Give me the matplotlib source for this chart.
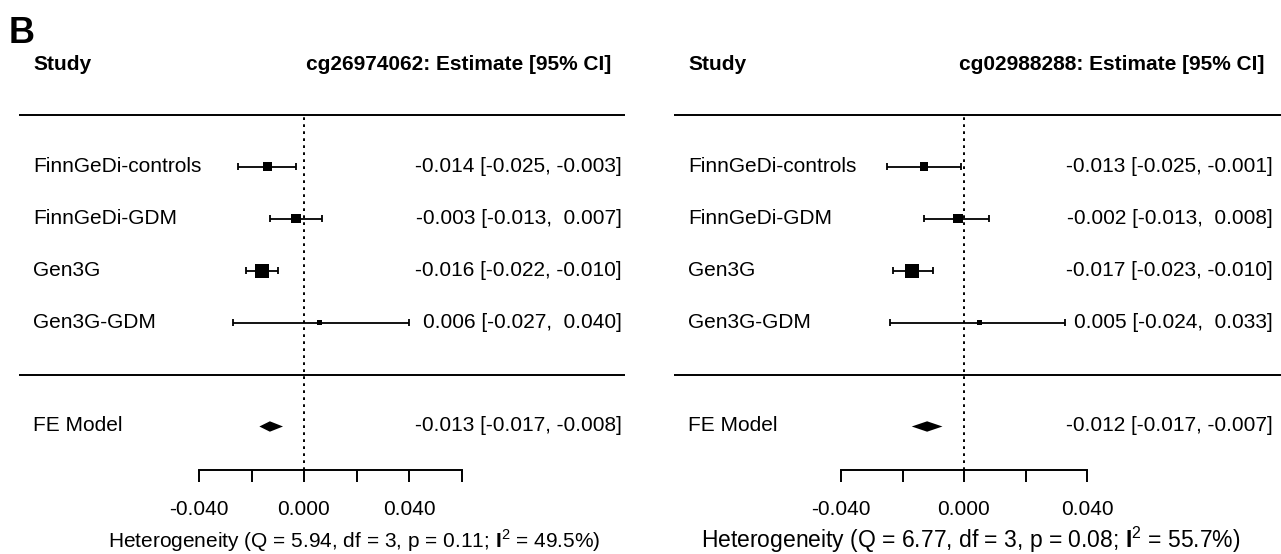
import numpy as np
import matplotlib
matplotlib.use("Agg")
import matplotlib.pyplot as plt

plt.rcParams["font.family"] = ["Liberation Sans", "DejaVu Sans"]
plt.rcParams["mathtext.fontset"] = "custom"
plt.rcParams["mathtext.rm"] = "Liberation Sans"
plt.rcParams["mathtext.bf"] = "Liberation Sans:bold"

studies = ["FinnGeDi-controls", "FinnGeDi-GDM", "Gen3G", "Gen3G-GDM"]

# cg26974062
cpg_a = "cg26974062"
est_a = [-0.014, -0.003, -0.016, 0.006]
lo_a = [-0.025, -0.013, -0.022, -0.027]
hi_a = [-0.003, 0.007, -0.010, 0.040]
fe_a = [-0.013, -0.017, -0.008]          # estimate, lower, upper
het_a = [5.94, 3, 0.11, 49.5]            # Q, df, p, I2
ticks_a = [-0.04, -0.02, 0.0, 0.02, 0.04, 0.06]
ticklabels_a = ["-0.040", "", "0.000", "", "0.040", ""]

# cg02988288
cpg_b = "cg02988288"
est_b = [-0.013, -0.002, -0.017, 0.005]
lo_b = [-0.025, -0.013, -0.023, -0.024]
hi_b = [-0.001, 0.008, -0.010, 0.033]
fe_b = [-0.012, -0.017, -0.007]
het_b = [6.77, 3, 0.08, 55.7]
ticks_b = [-0.04, -0.02, 0.0, 0.02, 0.04]
ticklabels_b = ["-0.040", "", "0.000", "", "0.040"]

W, H = 1281, 554
FS = 15
ROW_PX = 52.0      # pixels per row
TOP_LINE_PX = 114.5


def draw_panel(fig, ax_px, zero_px, ppu, px, est, lo, hi, fe, het, cpg, ticks, ticklabels, het_fs):
    # ax_px: (left, right) in pixels; zero_px / ppu: where 0 sits and px per unit
    ax = fig.add_axes([ax_px[0] / W, 0, (ax_px[1] - ax_px[0]) / W, 1])
    ax.set_xlim((ax_px[0] - zero_px) / ppu, (ax_px[1] - zero_px) / ppu)
    ax.set_ylim(5 - (H - TOP_LINE_PX) / ROW_PX, 5 + TOP_LINE_PX / ROW_PX)
    dx = lambda p: (p - zero_px) / ppu

    k = len(est)
    rows = np.arange(k, 0, -1)
    est = np.array(est)
    lo = np.array(lo)
    hi = np.array(hi)

    # point sizes by precision, like metafor
    prec = 3.92 / (hi - lo)
    sc = (prec - prec.min()) / (prec.max() - prec.min())
    side_pt = (4.7 + sc * (14 - 4.7)) * 0.72

    ax_y = 5 - (470 - TOP_LINE_PX) / ROW_PX

    ax.hlines([k + 1, 0], dx(px["line"][0]), dx(px["line"][1]), color="black", lw=1.4)
    ax.vlines(0, ax_y, k + 1, color="black", lw=1.4, linestyles=(0, (1.4, 2.2)))

    cap = 0.065
    ax.hlines(rows, lo, hi, color="black", lw=1.3)
    ax.vlines(lo, rows - cap, rows + cap, color="black", lw=1.3)
    ax.vlines(hi, rows - cap, rows + cap, color="black", lw=1.3)
    ax.scatter(est, rows, s=side_pt ** 2, marker="s", color="black", linewidths=0, zorder=3)

    for r, name, e, l, u in zip(rows, studies, est, lo, hi):
        ax.text(dx(px["label"]), r - 0.1, name, fontsize=FS, ha="left", va="baseline")
        ax.text(dx(px["est"]), r - 0.1, f"{e:.3f} [{l:6.3f}, {u:6.3f}]",
                fontsize=FS, ha="right", va="baseline")

    # summary diamond
    fy = -1
    dh = 0.1
    ax.fill([fe[1], fe[0], fe[2], fe[0]], [fy, fy + dh, fy, fy - dh], color="black", lw=0)
    ax.text(dx(px["label"]), fy - 0.09, "FE Model", fontsize=FS, ha="left", va="baseline")
    ax.text(dx(px["est"]), fy - 0.09, f"{fe[0]:.3f} [{fe[1]:6.3f}, {fe[2]:6.3f}]",
            fontsize=FS, ha="right", va="baseline")

    # headers
    ax.text(dx(px["label"]), 5.856, "Study", fontsize=FS, fontweight="bold", ha="left", va="baseline")
    ax.text(dx(px["head"]), 5.856, f"{cpg}: Estimate [95% CI]", fontsize=FS,
            fontweight="bold", ha="right", va="baseline")

    ax.text(dx(px["het"]), 5 - (548 - TOP_LINE_PX) / ROW_PX,
            f"Heterogeneity (Q = {het[0]:.2f}, df = {het[1]}, p = {het[2]:.2f}; "
            + r"$\mathbf{I}^2$" + f" = {het[3]:.1f}%)",
            fontsize=het_fs, ha="left", va="baseline")

    # x axis
    for s in ["top", "left", "right"]:
        ax.spines[s].set_visible(False)
    ax.spines["bottom"].set_position(("data", ax_y))
    ax.spines["bottom"].set_bounds(ticks[0], ticks[-1])
    ax.spines["bottom"].set_linewidth(1.4)
    ax.set_xticks(ticks)
    ax.set_xticklabels(ticklabels)
    ax.tick_params(axis="x", direction="out", length=8.6, width=1.4, pad=13, labelsize=FS)
    ax.set_yticks([])
    ax.patch.set_alpha(0)
    return ax


fig = plt.figure(figsize=(W / 100, H / 100), dpi=100)

draw_panel(fig, (0, 640), 304, 2625,
           {"line": (19, 625), "label": 33, "est": 622, "head": 611, "het": 108},
           est_a, lo_a, hi_a, fe_a, het_a, cpg_a, ticks_a, ticklabels_a, FS)
draw_panel(fig, (640, 1281), 964, 3075,
           {"line": (674, 1281), "label": 688, "est": 1273, "head": 1264, "het": 701},
           est_b, lo_b, hi_b, fe_b, het_b, cpg_b, ticks_b, ticklabels_b, 16.5)

fig.text(9 / W, 1 - 43 / H, "B", fontsize=26, fontweight="bold", ha="left", va="baseline")

fig.savefig("out.png", dpi=100)
